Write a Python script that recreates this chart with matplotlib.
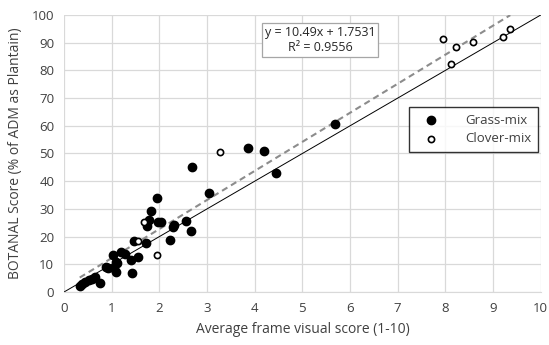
import numpy as np
import matplotlib.pyplot as plt

plt.rcParams['font.family'] = ['Open Sans', 'DejaVu Sans']

# Grass-mix (filled) points
grass_x = [0.33, 0.38, 0.45, 0.52, 0.58, 0.65, 0.75, 0.88, 0.92, 1.03, 1.05, 1.08, 1.08,
           1.12, 1.20, 1.27, 1.40, 1.43, 1.47, 1.55, 1.71, 1.75, 1.78, 1.82, 1.94, 1.98,
           2.03, 2.22, 2.28, 2.31, 2.55, 2.67, 2.68, 3.04, 3.86, 4.19, 4.45, 5.68]
grass_y = [2.2, 2.8, 3.5, 4.2, 4.8, 5.5, 3.2, 9.2, 8.6, 13.4, 8.8, 11.0, 7.3,
           10.3, 14.5, 13.8, 11.6, 7.0, 18.3, 12.7, 17.8, 23.8, 26.0, 29.2, 33.9, 25.4,
           25.3, 18.9, 23.4, 24.2, 25.6, 21.9, 45.2, 35.7, 51.9, 51.0, 42.8, 60.8]

# Clover-mix (open) points
clover_x = [1.55, 1.68, 1.94, 3.27, 7.95, 8.11, 8.22, 8.57, 9.21, 9.36]
clover_y = [18.3, 25.3, 13.3, 50.6, 91.3, 82.2, 88.3, 90.4, 92.2, 94.8]

slope, intercept = 10.49, 1.7531
eq_text = 'y = 10.49x + 1.7531\nR² = 0.9556'

fig = plt.figure(figsize=(5.49, 3.45), dpi=100)
ax = fig.add_axes([0.1166, 0.1536, 0.8684, 0.803])

ax.set_xlim(0, 10)
ax.set_ylim(0, 100)
ax.set_xticks(range(0, 11))
ax.set_yticks(range(0, 101, 10))
ax.grid(True, color='#d9d9d9', linewidth=0.9)
ax.set_axisbelow(True)
for side in ['top', 'right', 'left']:
    ax.spines[side].set_visible(False)
ax.spines['bottom'].set_color('#d9d9d9')
ax.tick_params(length=0, labelsize=9.5, colors='#404040', pad=7)

# 1:1 line
ax.plot([0, 10], [0, 100], color='black', linewidth=0.7, zorder=2)

# trendline over data range
all_x = np.array(grass_x + clover_x)
tx = np.array([all_x.min(), all_x.max()])
ax.plot(tx, slope * tx + intercept, color='#8c8c8c', linewidth=1.5,
        linestyle=(0, (3, 2)), zorder=2)

ax.scatter(grass_x, grass_y, s=36, color='black', zorder=3, label='Grass-mix')
ax.scatter(clover_x, clover_y, s=20, facecolor='white', edgecolor='black',
           linewidth=1.2, zorder=3, label='Clover-mix')

ax.text(5.37, 91.0, eq_text, ha='center', va='center', fontsize=9,
        color='#262626', linespacing=1.15,
        bbox=dict(boxstyle='square,pad=0.25', facecolor='white',
                  edgecolor='#a6a6a6', linewidth=0.9))

leg = ax.legend(loc='upper right', bbox_to_anchor=(0.995, 0.668), fontsize=9.5,
                frameon=True, fancybox=False, edgecolor='black', borderaxespad=0,
                borderpad=0.5, handletextpad=1.4, handlelength=2.4,
                labelspacing=0.45)
leg.get_frame().set_linewidth(1.0)
for t in leg.get_texts():
    t.set_color('#404040')

ax.set_xlabel('Average frame visual score (1-10)', fontsize=10, color='#404040', labelpad=5)
ax.set_ylabel('BOTANAL Score (% of ADM as Plantain)', fontsize=10, color='#404040', labelpad=6)

fig.savefig('out.png', dpi=100)
